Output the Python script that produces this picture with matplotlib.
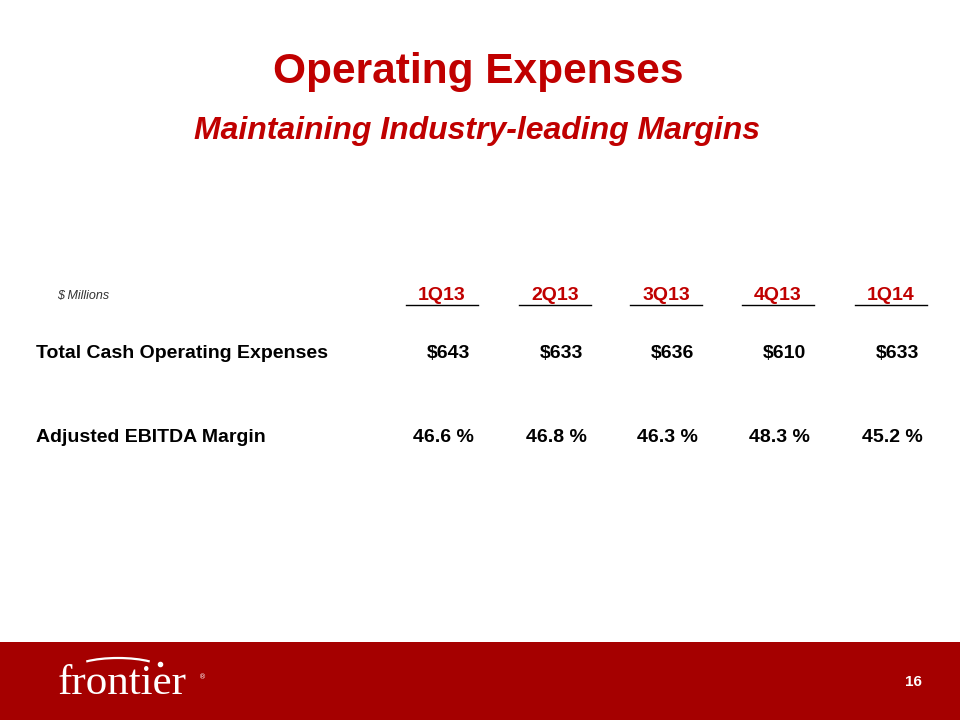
import matplotlib.pyplot as plt
from matplotlib.patches import Rectangle, Arc

quarters = ['1Q13', '2Q13', '3Q13', '4Q13', '1Q14']
cash_opex = [643, 633, 636, 610, 633]
ebitda_margin = [46.6, 46.8, 46.3, 48.3, 45.2]
row_labels = ['Total Cash Operating Expenses', 'Adjusted EBITDA Margin']

red = '#C00000'
dark_red = '#A50000'

fig = plt.figure(figsize=(9.6, 7.2), dpi=100)
ax = fig.add_axes([0, 0, 1, 1])
ax.set_xlim(0, 960)
ax.set_ylim(720, 0)
ax.axis('off')

font = 'Liberation Sans'

# titles
ax.text(478, 72, 'Operating Expenses', ha='center', va='center',
        fontsize=30.5, fontweight='bold', color=red, family=font)
ax.text(477, 131, 'Maintaining Industry-leading Margins', ha='center', va='center',
        fontsize=23, fontweight='bold', style='italic', color=red, family=font)

# header row
ax.text(57, 296, '$ Millions', ha='left', va='center', fontsize=9,
        style='italic', color='#333333', family=font)

col_right = [474, 587, 698, 810, 923]
col_width = 72
for q, xr in zip(quarters, col_right):
    xc = xr - col_width / 2 + 4
    ax.text(xc, 295, q, ha='center', va='center', fontsize=14,
            fontweight='bold', color=red, family=font)
    ax.plot([xc - 36, xc + 36], [305, 305], color='black', lw=1)

# data rows
for lbl, y in zip(row_labels, [354, 437]):
    ax.text(36, y, lbl, ha='left', va='center', fontsize=14,
            fontweight='bold', color='black', family=font)

for v, m, xr in zip(cash_opex, ebitda_margin, col_right):
    ax.text(xr - 4, 354, f'${v}', ha='right', va='center', fontsize=14,
            fontweight='bold', color='black', family=font)
    ax.text(xr, 437, f'{m:.1f} %', ha='right', va='center', fontsize=14,
            fontweight='bold', color='black', family=font)

# footer band
ax.add_patch(Rectangle((0, 642), 960, 78, color=dark_red, lw=0))
ax.text(58, 684, 'frontier', ha='left', va='center', fontsize=31,
        color='white', family='Liberation Serif')
ax.add_patch(Arc((118, 670), 90, 24, theta1=195, theta2=345, color='white', lw=1.6))
ax.plot([160], [664], marker='o', ms=3, color='white')
ax.text(199, 677, '®', ha='left', va='center', fontsize=5, color='white')
ax.text(913, 682, '16', ha='center', va='center', fontsize=11,
        fontweight='bold', color='white', family=font)

fig.savefig('out.png', dpi=100, facecolor='white')
